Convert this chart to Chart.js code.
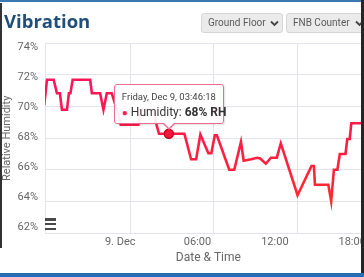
<!DOCTYPE html>
<html><head><meta charset="utf-8">
<script src="https://cdn.jsdelivr.net/npm/chart.js@4.4.1/dist/chart.umd.min.js"></script>
<style>
html,body{margin:0;padding:0;background:#fff;}
body{width:364px;height:277px;overflow:hidden;position:relative;font-family:Roboto,sans-serif;}
#c{position:absolute;left:0;top:0;}
#topline{position:absolute;left:0;top:0;width:364px;height:2px;background:#3b78b4;}
#botband{position:absolute;left:0;top:273px;width:364px;height:4px;background:#2a6cb2;}
#rborder{position:absolute;left:361px;top:0;width:3px;height:277px;background:#262626;}
#lborder{position:absolute;left:0;top:3px;width:2px;height:245px;background:#333;}
#title{position:absolute;left:4px;top:9px;font:700 18.5px/24px "Open Sans",sans-serif;color:#1f4e7a;white-space:nowrap;}
.dd{position:absolute;top:13px;height:20px;background:#ebebeb;border:1px solid #d6d6d6;border-radius:3px;font:10px/18px Roboto,sans-serif;color:#5a5a5a;padding-left:6px;box-sizing:border-box;white-space:nowrap;overflow:hidden;}
.dd svg{position:absolute;top:6px;}
#menu{position:absolute;left:45px;top:218px;width:11px;}
#menu div{height:2.5px;background:#4a4a4a;margin-bottom:2.3px;}
#tip{position:absolute;display:none;width:110px;height:40px;box-sizing:border-box;background:rgba(255,255,255,0.93);border:1px solid #f06a8e;border-radius:3px;padding:6px 0 0 7px;box-shadow:1px 1px 2px rgba(0,0,0,0.12);}
#tipTitle{font:9.5px/12px Roboto,sans-serif;color:#444;white-space:nowrap;}
#tipBody{font:12px/16px Roboto,sans-serif;color:#333;white-space:nowrap;margin-top:1px;}
#tipBody .dot{color:#ff1f4f;font-size:10px;margin-right:3px;}
#tip .arr,#tip .arr2{position:absolute;left:50%;width:0;height:0;border-left:6px solid transparent;border-right:6px solid transparent;}
#tip .arr{bottom:-7px;margin-left:-6px;border-top:6px solid #f06a8e;}
#tip .arr2{bottom:-5px;margin-left:-5px;border-left-width:5px;border-right-width:5px;border-top:5px solid #fff;}
</style></head>
<body>
<canvas id="c" width="373" height="277"></canvas>
<div id="topline"></div>
<div id="title">Vibration</div>
<div class="dd" style="left:201px;width:82px;">Ground Floor<svg style="left:68px" width="9" height="7" viewBox="0 0 9 7"><polyline points="1,1.5 4.5,5 8,1.5" fill="none" stroke="#444" stroke-width="1.8"/></svg></div>
<div class="dd" style="left:286px;width:82px;">FNB Counter<svg style="left:68px" width="9" height="7" viewBox="0 0 9 7"><polyline points="1,1.5 4.5,5 8,1.5" fill="none" stroke="#444" stroke-width="1.8"/></svg></div>
<div id="menu"><div></div><div></div><div></div></div>
<div id="tip"><div id="tipTitle"></div><div id="tipBody"><span class="dot">●</span><span id="tipName"></span>: <b id="tipVal"></b></div><div class="arr"></div><div class="arr2"></div></div>
<div id="lborder"></div>
<div id="rborder"></div>
<div id="botband"></div>
<script>
// ---- data (hours relative to 9 Dec 00:00, relative humidity %) ----
const seriesName = 'Humidity';
const hours = [-5.9, -5.68, -5.16, -4.91, -4.68, -4.52, -4.13, -3.98, -3.86, -3.69, -2.33, -2.20, -1.56, -1.30, -1.04, -0.66, -0.26, 0.04, 0.37, 1.41, 1.58, 2.59, 2.82, 3.01, 3.7717, 4.98, 5.50, 5.89, 6.22, 6.84, 7.07, 7.34, 7.50, 8.46, 8.85, 9.37, 9.58, 10.16, 10.63, 10.86, 11.30, 11.69, 12.15, 12.46, 13.76, 14.84, 15.03, 15.11, 16.15, 16.37, 16.58, 16.85, 17.04, 17.48, 17.62, 17.81, 17.93, 19.8];
const humidity = [70.3, 72.0, 72.0, 71.1, 71.1, 70.0, 70.0, 71.1, 71.1, 72.0, 72.0, 71.1, 71.1, 70.0, 71.1, 71.1, 70.0, 69.0, 69.0, 69.0, 70.0, 70.0, 69.0, 68.4, 68.4, 68.4, 66.7, 66.7, 68.35, 67.1, 67.1, 68.3, 68.3, 66.0, 66.0, 67.85, 66.6, 66.7, 66.8, 66.75, 66.4, 66.8, 66.8, 67.75, 64.3, 66.25, 66.25, 65.0, 65.0, 63.9, 66.0, 66.0, 67.05, 67.05, 68.05, 68.05, 69.1, 69.1];
const hoverIndex = 24;
const dayLabel = 'Friday, Dec 9';
const xTickHours = [0, 6, 12, 18];
const xTickLabels = ['9. Dec', '06:00', '12:00', '18:00'];
const yTicks = [62, 64, 66, 68, 70, 72, 74];

function pad(n){ return String(n).padStart(2,'0'); }
function fmtTime(h){
  const s = Math.round(h*3600);
  return pad(Math.floor(s/3600)) + ':' + pad(Math.floor((s%3600)/60)) + ':' + pad(s%60);
}

const gridColor = '#e4e4ee';
const ctx = document.getElementById('c').getContext('2d');
const chart = new Chart(ctx, {
  type: 'line',
  data: {
    datasets: [{
      label: seriesName,
      data: hours.map((h,i)=>({x:h, y:humidity[i]})),
      borderColor: (c) => {
        const a = c.chart.chartArea;
        if (!a) return '#ff2040';
        const g = c.chart.ctx.createLinearGradient(0, a.top, 0, a.bottom);
        g.addColorStop(0, '#ff1466');
        g.addColorStop(0.45, '#ff1a48');
        g.addColorStop(1, '#ff3322');
        return g;
      },
      borderWidth: 2.6,
      pointRadius: 0,
      pointHoverRadius: 4.5,
      pointHoverBackgroundColor: '#f4173a',
      pointHoverBorderColor: '#c8001c',
      pointHoverBorderWidth: 1.5,
      tension: 0,
      fill: false
    }]
  },
  options: {
    responsive: false,
    animation: false,
    events: [],
    layout: { padding: { top: 43.3, left: 0, right: 0, bottom: 0 } },
    plugins: {
      legend: { display: false },
      tooltip: {
        enabled: false,
        external: ({chart, tooltip}) => {
          const tip = document.getElementById('tip');
          if (!tooltip.opacity || !tooltip.dataPoints || !tooltip.dataPoints.length) { tip.style.display = 'none'; return; }
          const item = tooltip.dataPoints[0];
          document.getElementById('tipTitle').textContent = dayLabel + ', ' + fmtTime(item.parsed.x);
          document.getElementById('tipName').textContent = item.dataset.label;
          document.getElementById('tipVal').textContent = Math.round(item.parsed.y) + '% RH';
          tip.style.display = 'block';
          tip.style.left = (chart.canvas.offsetLeft + tooltip.caretX - tip.offsetWidth/2) + 'px';
          tip.style.top = (chart.canvas.offsetTop + tooltip.caretY - 10 - tip.offsetHeight) + 'px';
        }
      }
    },
    scales: {
      x: {
        type: 'linear', position: 'bottom',
        min: -5.835, max: 19.513,
        afterBuildTicks: s => { s.ticks = xTickHours.map(v => ({value: v})); },
        ticks: {
          callback: v => xTickLabels[xTickHours.indexOf(v)],
          color: '#666', font: {family: 'Roboto', size: 11},
          padding: 2, maxRotation: 0, autoSkip: false
        },
        grid: { display: false, drawTicks: false },
        border: { display: false },
        title: { display: true, text: 'Date & Time', color: '#666', font: {family: 'Roboto', size: 12}, padding: {top: 0, bottom: 12} },
        afterFit: s => { s.height = 43.7; }
      },
      x2: {
        type: 'linear', position: 'bottom',
        min: -6.18, max: 17.38,
        afterBuildTicks: s => { s.ticks = xTickHours.filter(v => v <= s.max).map(v => ({value: v})); },
        ticks: { display: false },
        grid: { color: gridColor, drawTicks: false },
        border: { display: false },
        afterFit: s => { s.height = 0; }
      },
      y: {
        position: 'left',
        min: 61.76, max: 74.43,
        afterBuildTicks: s => { s.ticks = yTicks.map(v => ({value: v})); },
        ticks: { callback: v => v + '%', color: '#666', font: {family: 'Roboto', size: 11}, padding: 7, labelOffset: -2 },
        grid: { display: false, drawTicks: false },
        border: { display: true, color: gridColor },
        title: { display: true, text: 'Relative Humidity', color: '#666', font: {family: 'Roboto', size: 11}, padding: {top: 1, bottom: 0} },
        afterFit: s => { s.width = 45; }
      },
      y2: {
        position: 'left',
        min: 62, max: 74,
        afterBuildTicks: s => { s.ticks = yTicks.map(v => ({value: v})); },
        ticks: { display: false },
        grid: { color: gridColor, drawTicks: false },
        border: { display: false },
        afterFit: s => { s.width = 0; }
      }
    }
  }
});
const act = [{datasetIndex: 0, index: hoverIndex}];
chart.setActiveElements(act);
chart.tooltip.setActiveElements(act, {x: 0, y: 0});
chart.update();
chart.tooltip.setActiveElements(act, {x: 0, y: 0});
</script>
</body></html>
